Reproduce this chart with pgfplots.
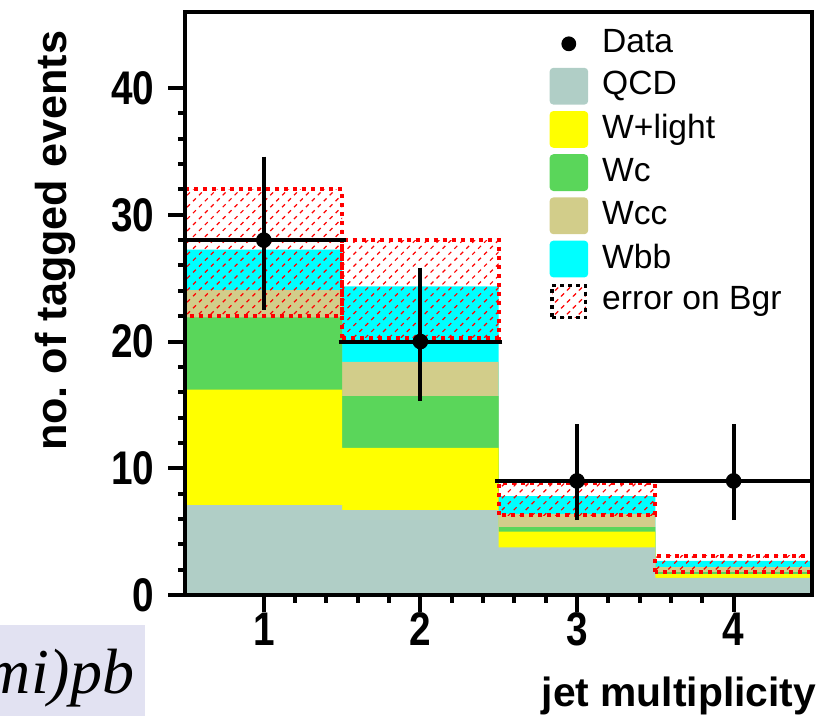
\documentclass[border=0pt]{standalone}
\usepackage{fontspec}
\setmainfont{Liberation Sans}
\newfontfamily\timesit{Liberation Serif}
\newfontfamily\tickfont{Liberation Sans}[FakeStretch=0.82]
\usepackage{pgfplots}
\pgfplotsset{compat=1.18}
\usetikzlibrary{patterns.meta}

\definecolor{qcd}{RGB}{176,206,198}
\definecolor{wlight}{RGB}{255,255,0}
\definecolor{wc}{RGB}{90,214,90}
\definecolor{wcc}{RGB}{210,205,138}
\definecolor{wbb}{RGB}{0,255,255}
\definecolor{boxbg}{RGB}{226,226,242}

% legend swatch: a filled square
\newcommand\swatch[1]{\addlegendimage{legend image code/.code={\fill[#1,rounded corners=0.8pt] (0pt,-4.4pt) rectangle (9.25pt,4.4pt);}}}

\begin{document}
\begin{tikzpicture}
\begin{axis}[
  scale only axis, width=156.6pt, height=145.75pt,
  xmin=0.5, xmax=4.5, ymin=0, ymax=46,
  axis on top,
  axis line style={line width=1pt},
  xtick={1,2,3,4}, minor x tick num=4,
  ytick={0,10,20,30,40}, minor y tick num=4,
  tick pos=left, tick align=outside,
  major tick length=4.25pt, minor tick length=1.9pt,
  tick style={line width=1pt, black},
  ticklabel style={font=\tickfont\bfseries\fontsize{11.8}{13}\selectfont},
  xticklabel style={inner sep=0pt},
  /pgf/number format/assume math mode=true,
  xlabel={jet multiplicity},
  xlabel style={at={(axis description cs:1.008,-0.192)}, anchor=base east,
    inner sep=0pt, font=\fontsize{10.2}{12}\selectfont\bfseries},
  ylabel={no.\ of tagged events},
  ylabel style={at={(axis description cs:-0.207,0.969)}, anchor=east,
    inner sep=0pt, font=\fontsize{10.8}{13}\selectfont\bfseries},
  legend style={at={(axis description cs:0.58,0.977)}, anchor=north west,
    draw=none, fill=none, inner sep=0pt, row sep=1.6pt, column sep=3pt,
    nodes={inner sep=0.5pt, text depth=0.15em},
    font=\fontsize{8.4}{10}\selectfont},
  legend cell align=left,
]
% legend entries
\addlegendimage{legend image code/.code={\path[draw=none,fill=none] (0pt,-4.4pt) rectangle (9.25pt,4.4pt); \fill[black] (4.6pt,0pt) circle (1.65pt);}}
\addlegendentry{Data}
\swatch{qcd}\addlegendentry{QCD}
\swatch{wlight}\addlegendentry{W+light}
\swatch{wc}\addlegendentry{Wc}
\swatch{wcc}\addlegendentry{Wcc}
\swatch{wbb}\addlegendentry{Wbb}
\addlegendimage{legend image code/.code={\path[draw=none,fill=none] (0pt,-4.4pt) rectangle (9.25pt,4.4pt); \draw[black, line width=0.8pt, dash pattern=on 1pt off 1pt, pattern={Lines[angle=45,distance=2.1pt,line width=0.3pt]}, pattern color=red] (0.4pt,-4pt) rectangle (8.85pt,4pt);}}
\addlegendentry{error on Bgr}

% stacked backgrounds (cumulative tops), drawn from top layer down
\addplot[forget plot, const plot, draw=none, fill=wbb] coordinates {(0.5,27.25)(1.5,24.35)(2.5,7.8)(3.5,2.7)(4.5,2.7)} \closedcycle;
\addplot[forget plot, const plot, draw=none, fill=wcc] coordinates {(0.5,24.05)(1.5,18.4)(2.5,6.4)(3.5,2.2)(4.5,2.2)} \closedcycle;
\addplot[forget plot, const plot, draw=none, fill=wc] coordinates {(0.5,21.9)(1.5,15.7)(2.5,5.35)(3.5,1.8)(4.5,1.8)} \closedcycle;
\addplot[forget plot, const plot, draw=none, fill=wlight] coordinates {(0.5,16.2)(1.5,11.6)(2.5,5.0)(3.5,1.65)(4.5,1.65)} \closedcycle;
\addplot[forget plot, const plot, draw=none, fill=qcd] coordinates {(0.5,7.1)(1.5,6.7)(2.5,3.75)(3.5,1.35)(4.5,1.35)} \closedcycle;

% error on background
\pgfplotsset{errband/.style={forget plot, draw=red, line width=1pt, dash pattern=on 1pt off 1.25pt, pattern={Lines[angle=45,distance=2.1pt,line width=0.3pt]}, pattern color=red}}
\addplot[errband] coordinates {(0.5,22)(0.5,32)(1.5,32)(1.5,22)} -- cycle;
\addplot[errband] coordinates {(1.5,20.3)(1.5,28)(2.5,28)(2.5,20.3)} -- cycle;
\addplot[errband] coordinates {(2.5,6.3)(2.5,8.8)(3.5,8.8)(3.5,6.3)} -- cycle;
\addplot[errband] coordinates {(3.5,1.85)(3.5,3.1)(4.5,3.1)(4.5,1.85)} -- cycle;

% data
\addplot[forget plot, only marks, mark=*, mark size=1.75pt, black,
  error bars/.cd, x dir=both, x explicit, y dir=both, y explicit,
  error bar style={line width=1pt, black},
  error mark=-, error mark options={line width=1pt, mark size=0.9pt}]
  coordinates {
  (1,28) += (0.5,6.3) -= (0.5,5.2)
  (2,20) += (0.5,5.55) -= (0.5,4.4)
  (3,9) += (0.5,4.2) -= (0.5,2.8)
  (4,9) += (0.5,4.2) -= (0.5,2.8)
  };
\end{axis}
\pgfresetboundingbox
\useasboundingbox (-46.375pt,-30pt) rectangle (158.875pt,148.75pt);
\fill[boxbg] (-50pt,-35pt) rectangle (-10.125pt,-7.5pt);
\node[anchor=base east, inner sep=0pt, font={\timesit\itshape\fontsize{16}{18}\selectfont}] at (-12.6pt,-24.5pt) {mi)pb};
\end{tikzpicture}
\end{document}
